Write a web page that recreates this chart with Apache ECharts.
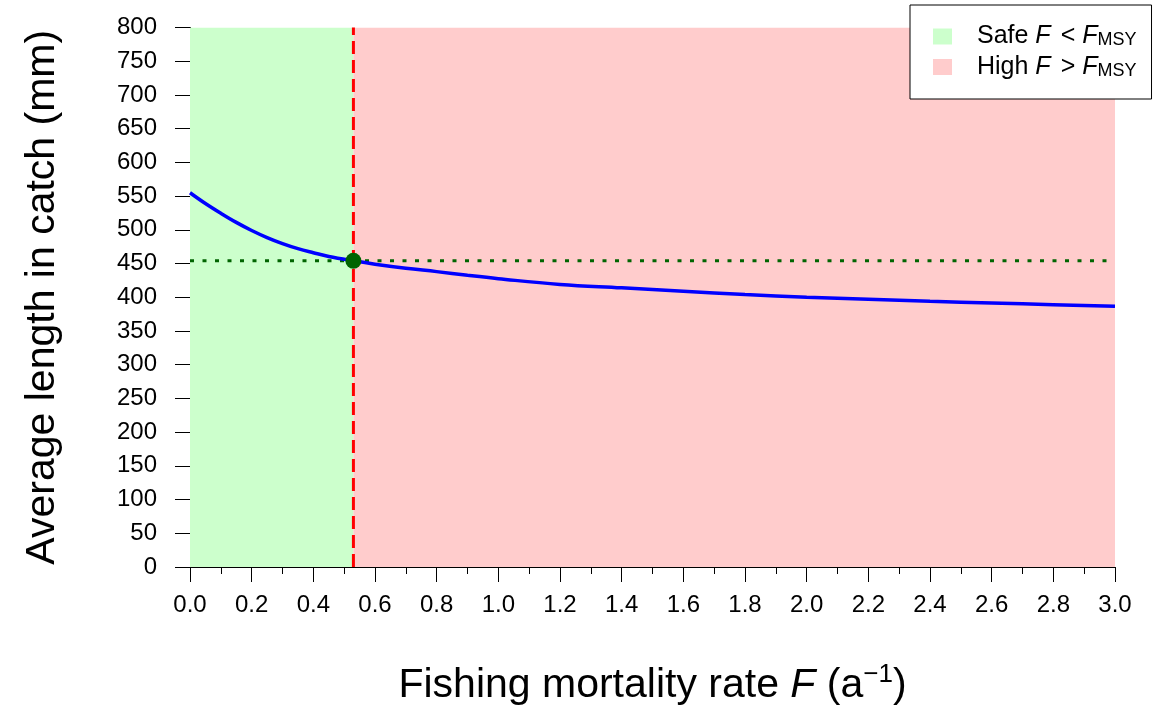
<!DOCTYPE html>
<html>
<head>
<meta charset="utf-8">
<script src="https://cdn.jsdelivr.net/npm/echarts@6/dist/echarts.min.js"></script>
<style>
  html, body { margin: 0; padding: 0; background: #ffffff; }
  #chart { width: 1166px; height: 708px; }
</style>
</head>
<body>
<div id="chart"></div>
<script>
// Fishing mortality F (per year) and the average length of fish in the catch (mm)
const fishingMortality = [0, 0.05, 0.1, 0.15, 0.2, 0.25, 0.3, 0.35, 0.4, 0.45, 0.53, 0.6, 0.7, 0.8, 0.9, 1.0, 1.2, 1.4, 1.6, 1.8, 2.0, 2.2, 2.4, 2.6, 2.8, 3.0];
const averageLength   = [555, 539, 524.5, 511, 499, 488.5, 479.5, 472, 466, 460.5, 454, 449, 443, 438, 432.5, 427.5, 419, 414, 409, 404, 400, 397, 394, 391.5, 389, 386.5];

// Reference point at maximum sustainable yield
const fMsy = 0.53;
const lengthAtFmsy = 454;

// Axis ranges
const xRange = [0, 3.0];
const yRange = [0, 800];

// Legend entries
const zoneNames = ['safe', 'high'];
const zoneLabels = {
  safe: '{sp|}{t|Safe }{i|F}{rel|<}{i|F}{sub|MSY}',
  high: '{sp|}{t|High }{i|F}{rel|>}{i|F}{sub|MSY}'
};
const zoneColors = { safe: '#ccffcc', high: '#ffcccc' };

const FONT = '"Liberation Sans", Arial, sans-serif';

const curve = fishingMortality.map((f, i) => [f, averageLength[i]]);

const chart = echarts.init(document.getElementById('chart'), null, { renderer: 'canvas' });

chart.setOption({
  backgroundColor: '#ffffff',
  animation: false,
  textStyle: { fontFamily: FONT },
  grid: {
    left: 190, right: 51, top: 27.5, bottom: 141,
    containLabel: false,
    outerBoundsMode: 'none'
  },
  legend: {
    data: zoneNames,
    orient: 'vertical',
    left: 910,
    top: 5,
    padding: [19, 15, 19, 23],
    itemGap: 5,
    itemWidth: 19,
    itemHeight: 16,
    icon: 'rect',
    backgroundColor: '#ffffff',
    borderColor: '#000000',
    borderWidth: 1,
    borderRadius: 0,
    selectedMode: false,
    formatter: name => zoneLabels[name],
    textStyle: {
      fontFamily: FONT,
      rich: {
        sp:  { width: 20 },
        t:   { fontSize: 25, lineHeight: 26, color: '#000', fontFamily: FONT },
        i:   { fontSize: 25, lineHeight: 26, color: '#000', fontStyle: 'italic', fontFamily: FONT },
        rel: { fontSize: 25, lineHeight: 26, color: '#000', fontFamily: FONT, padding: [0, 7, 0, 10] },
        sub: { fontSize: 18, lineHeight: 16, color: '#000', verticalAlign: 'bottom', fontFamily: FONT }
      }
    }
  },
  xAxis: {
    type: 'value',
    min: xRange[0],
    max: xRange[1],
    interval: 0.2,
    name: '{t|Fishing mortality rate }{i|F}{t| (a}{sup|\u22121}{t|)}',
    nameLocation: 'middle',
    nameGap: 95,
    nameTextStyle: {
      rich: {
        t:   { fontSize: 41, lineHeight: 48, color: '#000', fontFamily: FONT },
        i:   { fontSize: 41, lineHeight: 48, color: '#000', fontStyle: 'italic', fontFamily: FONT },
        sup: { fontSize: 26, lineHeight: 24, color: '#000', verticalAlign: 'top', fontFamily: FONT }
      }
    },
    axisLine: { show: true, onZero: false, lineStyle: { color: '#000', width: 1 } },
    axisTick: { show: true, inside: false, length: 15, lineStyle: { color: '#000', width: 1 } },
    minorTick: { show: true, splitNumber: 2, length: 7, lineStyle: { color: '#000', width: 1 } },
    axisLabel: {
      margin: 26,
      fontSize: 24,
      color: '#000',
      fontFamily: FONT,
      formatter: v => v.toFixed(1)
    },
    splitLine: { show: false },
    minorSplitLine: { show: false }
  },
  yAxis: {
    type: 'value',
    min: yRange[0],
    max: yRange[1],
    interval: 50,
    name: 'Average length in catch (mm)',
    nameLocation: 'middle',
    nameGap: 127,
    nameTextStyle: { fontSize: 41, color: '#000', fontFamily: FONT },
    axisLine: { show: true, lineStyle: { color: '#000', width: 1 } },
    axisTick: { show: true, inside: false, length: 15, lineStyle: { color: '#000', width: 1 } },
    axisLabel: { margin: 33, fontSize: 24, color: '#000', fontFamily: FONT },
    splitLine: { show: false }
  },
  series: [
    {
      // F below F_MSY
      name: 'safe',
      type: 'line',
      data: [[xRange[0], yRange[1]], [fMsy, yRange[1]]],
      symbol: 'none',
      color: zoneColors.safe,
      lineStyle: { width: 0 },
      areaStyle: { color: zoneColors.safe, opacity: 1, origin: 'start' },
      silent: true,
      z: 1
    },
    {
      // F above F_MSY
      name: 'high',
      type: 'line',
      data: [[fMsy, yRange[1]], [xRange[1], yRange[1]]],
      symbol: 'none',
      color: zoneColors.high,
      lineStyle: { width: 0 },
      areaStyle: { color: zoneColors.high, opacity: 1, origin: 'start' },
      silent: true,
      z: 1
    },
    {
      // length at F_MSY, dotted across the plot
      name: 'lengthRef',
      type: 'line',
      data: [[xRange[0], lengthAtFmsy], [xRange[1], lengthAtFmsy]],
      symbol: 'none',
      lineStyle: { color: '#006400', width: 3, type: [4, 8.5] },
      silent: true,
      z: 3
    },
    {
      // F_MSY, dashed from bottom to top
      name: 'fRef',
      type: 'line',
      data: [[fMsy, yRange[0]], [fMsy, yRange[1]]],
      symbol: 'none',
      lineStyle: { color: '#ff0000', width: 3, type: [13, 6] },
      silent: true,
      z: 3
    },
    {
      name: 'meanLength',
      type: 'line',
      data: curve,
      smooth: 0.4,
      symbol: 'none',
      lineStyle: { color: '#0000ff', width: 3.5 },
      silent: true,
      z: 4
    },
    {
      name: 'msyPoint',
      type: 'scatter',
      data: [[fMsy, lengthAtFmsy]],
      symbol: 'circle',
      symbolSize: 16,
      itemStyle: { color: '#006400', opacity: 1 },
      silent: true,
      z: 5
    }
  ]
});
</script>
</body>
</html>
